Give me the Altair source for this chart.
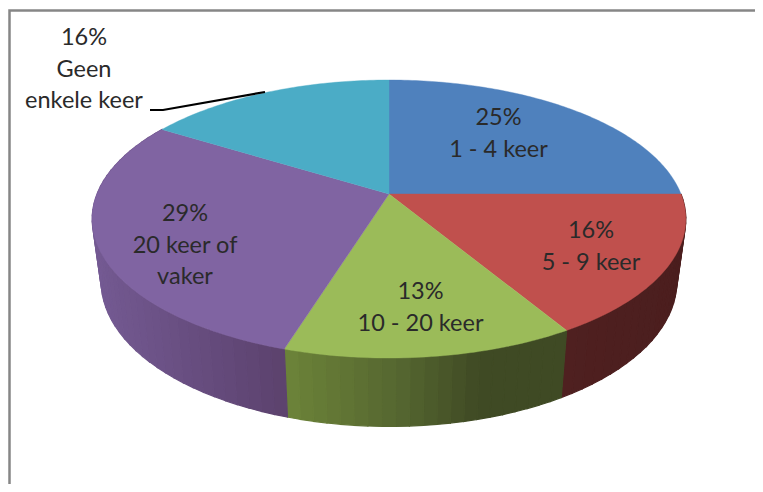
import altair as alt
import numpy as np
import pandas as pd

# --- values
categories = ["1 - 4 keer", "5 - 9 keer", "10 - 20 keer", "20 keer of vaker", "Geen enkele keer"]
shares = [25.0, 16.4, 13.4, 29.0, 16.2]
top_colors = ["#4F81BD", "#C0504D", "#9BBB59", "#8064A2", "#4BACC6"]
label_texts = ["25%\n1 - 4 keer", "16%\n5 - 9 keer", "13%\n10 - 20 keer",
               "29%\n20 keer of\nvaker", "16%\nGeen\nenkele keer"]

# --- layout (page pixels, the chart starts at 8,8)
W, H = 747, 476
OFF = 8
label_x = [498.5, 591, 420.5, 185, 84]
label_y = [118, 231, 292, 214, 38]
leader_x = [150, 163, 265]
leader_y = [110, 110, 92]
frame_x = [9.5, 9.5, 755]
frame_y = [484, 10.5, 10.5]

# perspective disc
CX, CY = 389, 194
K, A, B = 0.18, 134.5, 292
RIM_SX, RIM_CY, RIM_SY = 288 / 297, 281.4, 145 / 139
ELL_CY = 219

# wall shading: slice index -> (page x, colour) stops
wall_stops = {
    1: [(561, "#4f2020"), (690, "#4b1e1e")],
    2: [(285, "#6c8339"), (400, "#556630"), (480, "#3f4a24"), (565, "#3f4a24")],
    3: [(90, "#745a93"), (200, "#664c7e"), (290, "#5b416c")],
}


def rim_top(p):
    t = np.asarray(p) / 100 * 2 * np.pi
    u, v = np.sin(t), np.cos(t)
    d = 1 + K * v
    return CX + B * u / d, CY - A * v / d


def rim_bottom(p):
    x, y = rim_top(p)
    return CX + (x - CX) * RIM_SX, RIM_CY + (y - ELL_CY) * RIM_SY


def hex2rgb(h):
    return np.array([int(h[i:i + 2], 16) for i in (1, 3, 5)], float)


def shade(stops, x):
    xs = [s[0] for s in stops]
    cs = np.array([hex2rgb(s[1]) for s in stops])
    c = [np.interp(x, xs, cs[:, j]) for j in range(3)]
    return "#%02x%02x%02x" % tuple(int(round(a)) for a in c)


edges = np.concatenate([[0], np.cumsum(shares)])

tops = []
for i, cat in enumerate(categories):
    ps = np.linspace(edges[i], edges[i + 1], int(shares[i] * 4) + 2)
    xs, ys = rim_top(ps)
    tops.append({"slice": cat, "i": 0, "x": CX - OFF, "y": CY - OFF, "c": top_colors[i]})
    for j, (x, y) in enumerate(zip(xs, ys)):
        tops.append({"slice": cat, "i": j + 1, "x": x - OFF, "y": y - OFF, "c": top_colors[i]})

walls = []
sid = 0
for i, stops in wall_stops.items():
    ps = np.linspace(edges[i], edges[i + 1], int(shares[i] * 1.5) + 2)
    for a, b in zip(ps[:-1], ps[1:]):
        xa, ya = rim_top(a)
        xb, yb = rim_top(b)
        xc, yc = rim_bottom(b)
        xd, yd = rim_bottom(a)
        col = shade(stops, (xa + xb) / 2)
        for j, (x, y) in enumerate([(xa, ya), (xb, yb), (xc, yc), (xd, yd)]):
            walls.append({"strip": sid, "i": j, "x": x - OFF, "y": y - OFF, "c": col})
        sid += 1

x_enc = alt.X("x:Q", axis=None, scale=alt.Scale(domain=[0, W], range=[0, W], nice=False, zero=False))
y_enc = alt.Y("y:Q", axis=None, scale=alt.Scale(domain=[0, H], range=[0, H], nice=False, zero=False))

wall_layer = alt.Chart(pd.DataFrame(walls)).mark_line(
    interpolate="linear-closed", strokeWidth=1.2
).encode(
    x=x_enc, y=y_enc, order="i:Q", detail="strip:N",
    fill=alt.Fill("c:N", scale=None), stroke=alt.Stroke("c:N", scale=None),
)

top_layer = alt.Chart(pd.DataFrame(tops)).mark_line(
    interpolate="linear-closed", strokeWidth=0.4
).encode(
    x=x_enc, y=y_enc, order="i:Q", detail="slice:N",
    fill=alt.Fill("c:N", scale=None), stroke=alt.Stroke("c:N", scale=None),
)

labels = pd.DataFrame({
    "t": label_texts,
    "x": [v - OFF for v in label_x],
    "y": [v - OFF for v in label_y],
})
text_layer = alt.Chart(labels).mark_text(
    font="Lato", fontSize=23.5, color="#2a2a2a", align="center", baseline="middle",
    lineBreak="\n", lineHeight=31.5,
).encode(x=x_enc, y=y_enc, text="t:N")

leader = pd.DataFrame({
    "x": [v - OFF for v in leader_x],
    "y": [v - OFF for v in leader_y],
    "i": range(len(leader_x)),
})
leader_layer = alt.Chart(leader).mark_line(color="#000000", strokeWidth=2.2).encode(
    x=x_enc, y=y_enc, order="i:Q"
)

frame = pd.DataFrame({
    "x": [v - OFF for v in frame_x],
    "y": [v - OFF for v in frame_y],
    "i": range(len(frame_x)),
})
frame_layer = alt.Chart(frame).mark_line(color="#868686", strokeWidth=2.5).encode(
    x=x_enc, y=y_enc, order="i:Q"
)

chart = alt.layer(wall_layer, top_layer, leader_layer, text_layer, frame_layer).properties(
    width=W, height=H, padding=0, background="#ffffff",
    autosize=alt.AutoSizeParams(type="none"),
).configure_view(stroke=None)

chart.save("out.html", embed_options={"renderer": "svg", "actions": False})
